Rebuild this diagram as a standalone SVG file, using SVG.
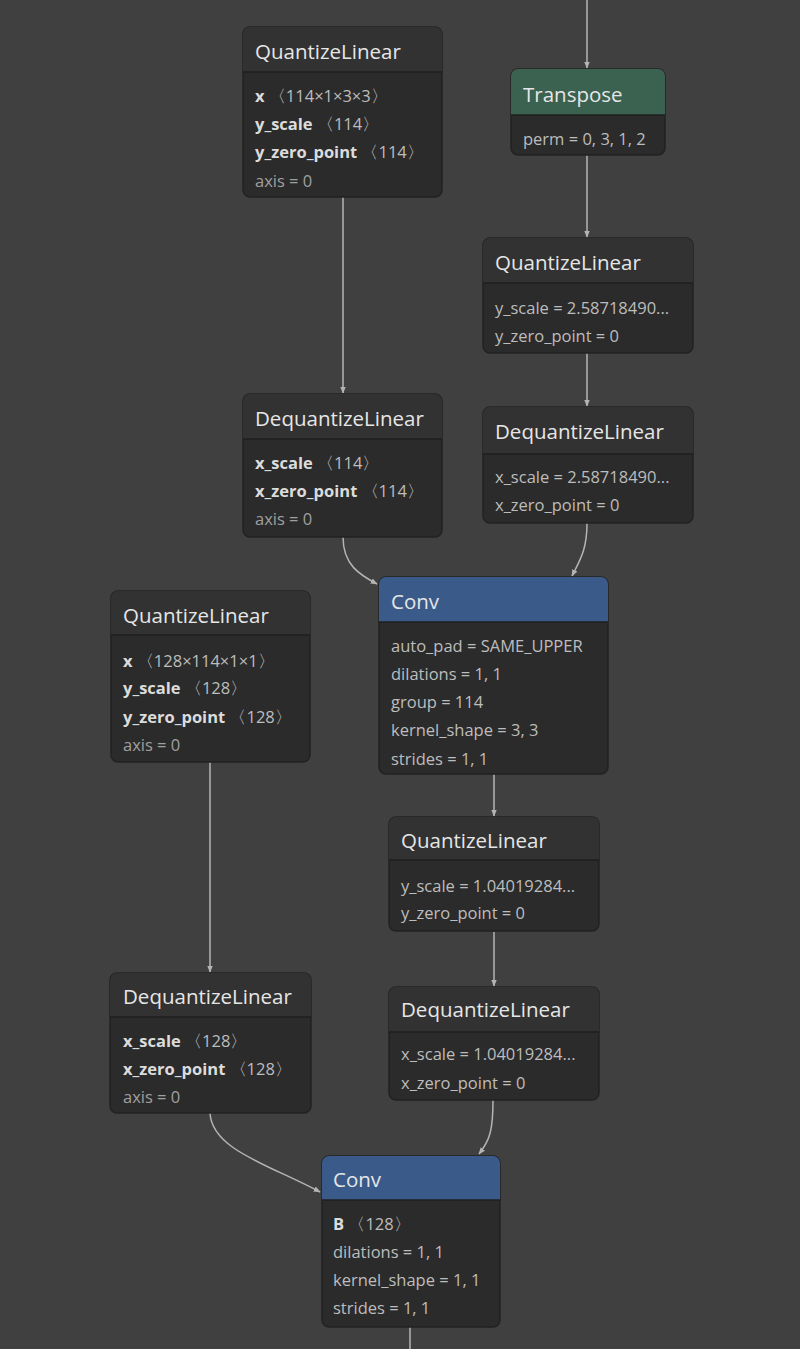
<svg xmlns="http://www.w3.org/2000/svg" width="800" height="1349" viewBox="0 0 800 1349">
<defs>
<marker id="arr" viewBox="0 0 10 10" refX="9" refY="5" markerWidth="7" markerHeight="7" orient="auto" markerUnits="userSpaceOnUse">
<path d="M0,1 L10,5 L0,9 Z" fill="#b4b4b4"/>
</marker>
<style>
.bg{fill:#404040}
.body{fill:#2b2b2b;stroke:#222;stroke-width:1.5}
.hd{fill:#323232}
.hdc{fill:#3a5a8a}
.hdt{fill:#3b6150}
.sep{stroke:#1f1f1f;stroke-width:1.5}
.t{font-family:"Open Sans","Noto Sans",sans-serif;font-size:20.5px;fill:#e6e6e6}
.a{font-family:"Open Sans","Noto Sans",sans-serif;font-size:16.5px;fill:#bdbdbd}
.b{font-weight:bold;fill:#dcdcdc}
.d{fill:#a0a0a0}
.e{fill:none;stroke:#b4b4b4;stroke-width:1.5;marker-end:url(#arr)}
.e2{fill:none;stroke:#b4b4b4;stroke-width:1.5}
</style>
</defs>
<rect class="bg" x="0" y="0" width="800" height="1349"/>

<g id="edges">
<path class="e" d="M587,0 L587,68"/>
<path class="e" d="M587,155 L587,237"/>
<path class="e" d="M587,353 L587,406"/>
<path class="e" d="M587,523 C587,550 580,560 572,576"/>
<path class="e" d="M343,197 L343,393"/>
<path class="e" d="M343,537 C343,565 360,575 377,584"/>
<path class="e" d="M494,773 L494,816"/>
<path class="e" d="M494,932 L494,986"/>
<path class="e" d="M493,1100 C493,1130 490,1140 479,1154"/>
<path class="e" d="M210,762 L210,972"/>
<path class="e" d="M210,1113 C212,1150 270,1165 320,1192"/>
<path class="e2" d="M410,1327 L410,1349"/>
</g>

<g id="n1">
<rect class="body" x="243" y="27" width="199" height="170" rx="7"/>
<path class="hd" d="M250,27 H435 A7,7 0 0 1 442,34 V72 H243 V34 A7,7 0 0 1 250,27 Z"/>
<line class="sep" x1="243" y1="72" x2="442" y2="72"/>
<text class="t" x="255" y="59">QuantizeLinear</text>
<text class="a" x="255" y="102"><tspan class="b">x</tspan> 〈114×1×3×3〉</text>
<text class="a" x="255" y="130"><tspan class="b">y_scale</tspan> 〈114〉</text>
<text class="a" x="255" y="158"><tspan class="b">y_zero_point</tspan> 〈114〉</text>
<text class="a d" x="255" y="187">axis = 0</text>
</g>

<g id="n2">
<rect class="body" x="511" y="69" width="154" height="86" rx="7"/>
<path class="hdt" d="M518,69 H658 A7,7 0 0 1 665,76 V115 H511 V76 A7,7 0 0 1 518,69 Z"/>
<line class="sep" x1="511" y1="115" x2="665" y2="115"/>
<text class="t" x="523" y="102">Transpose</text>
<text class="a" x="523" y="145">perm = 0, 3, 1, 2</text>
</g>

<g id="n3">
<rect class="body" x="483" y="238" width="210" height="115" rx="7"/>
<path class="hd" d="M490,238 H686 A7,7 0 0 1 693,245 V283 H483 V245 A7,7 0 0 1 490,238 Z"/>
<line class="sep" x1="483" y1="283" x2="693" y2="283"/>
<text class="t" x="495" y="270">QuantizeLinear</text>
<text class="a" x="495" y="314">y_scale = 2.58718490...</text>
<text class="a" x="495" y="342">y_zero_point = 0</text>
</g>

<g id="n4">
<rect class="body" x="483" y="407" width="210" height="116" rx="7"/>
<path class="hd" d="M490,407 H686 A7,7 0 0 1 693,414 V454 H483 V414 A7,7 0 0 1 490,407 Z"/>
<line class="sep" x1="483" y1="454" x2="693" y2="454"/>
<text class="t" x="495" y="439">DequantizeLinear</text>
<text class="a" x="495" y="483">x_scale = 2.58718490...</text>
<text class="a" x="495" y="511">x_zero_point = 0</text>
</g>

<g id="n5">
<rect class="body" x="243" y="394" width="199" height="143" rx="7"/>
<path class="hd" d="M250,394 H435 A7,7 0 0 1 442,401 V439 H243 V401 A7,7 0 0 1 250,394 Z"/>
<line class="sep" x1="243" y1="439" x2="442" y2="439"/>
<text class="t" x="255" y="426">DequantizeLinear</text>
<text class="a" x="255" y="469"><tspan class="b">x_scale</tspan> 〈114〉</text>
<text class="a" x="255" y="497"><tspan class="b">x_zero_point</tspan> 〈114〉</text>
<text class="a d" x="255" y="525">axis = 0</text>
</g>

<g id="n6">
<rect class="body" x="379" y="577" width="229" height="197" rx="7"/>
<path class="hdc" d="M386,577 H601 A7,7 0 0 1 608,584 V622 H379 V584 A7,7 0 0 1 386,577 Z"/>
<line class="sep" x1="379" y1="622" x2="608" y2="622"/>
<text class="t" x="391" y="609">Conv</text>
<text class="a" x="391" y="652">auto_pad = SAME_UPPER</text>
<text class="a" x="391" y="680">dilations = 1, 1</text>
<text class="a" x="391" y="708">group = 114</text>
<text class="a" x="391" y="736">kernel_shape = 3, 3</text>
<text class="a" x="391" y="765">strides = 1, 1</text>
</g>

<g id="n7">
<rect class="body" x="111" y="591" width="199" height="171" rx="7"/>
<path class="hd" d="M118,591 H303 A7,7 0 0 1 310,598 V635 H111 V598 A7,7 0 0 1 118,591 Z"/>
<line class="sep" x1="111" y1="635" x2="310" y2="635"/>
<text class="t" x="123" y="623">QuantizeLinear</text>
<text class="a" x="123" y="667"><tspan class="b">x</tspan> 〈128×114×1×1〉</text>
<text class="a" x="123" y="694"><tspan class="b">y_scale</tspan> 〈128〉</text>
<text class="a" x="123" y="723"><tspan class="b">y_zero_point</tspan> 〈128〉</text>
<text class="a d" x="123" y="751">axis = 0</text>
</g>

<g id="n8">
<rect class="body" x="389" y="817" width="210" height="114" rx="7"/>
<path class="hd" d="M396,817 H592 A7,7 0 0 1 599,824 V860 H389 V824 A7,7 0 0 1 396,817 Z"/>
<line class="sep" x1="389" y1="860" x2="599" y2="860"/>
<text class="t" x="401" y="848">QuantizeLinear</text>
<text class="a" x="401" y="892">y_scale = 1.04019284...</text>
<text class="a" x="401" y="919">y_zero_point = 0</text>
</g>

<g id="n9">
<rect class="body" x="389" y="987" width="210" height="113" rx="7"/>
<path class="hd" d="M396,987 H592 A7,7 0 0 1 599,994 V1032 H389 V994 A7,7 0 0 1 396,987 Z"/>
<line class="sep" x1="389" y1="1032" x2="599" y2="1032"/>
<text class="t" x="401" y="1017">DequantizeLinear</text>
<text class="a" x="401" y="1060">x_scale = 1.04019284...</text>
<text class="a" x="401" y="1089">x_zero_point = 0</text>
</g>

<g id="n10">
<rect class="body" x="110" y="973" width="201" height="140" rx="7"/>
<path class="hd" d="M117,973 H304 A7,7 0 0 1 311,980 V1017 H110 V980 A7,7 0 0 1 117,973 Z"/>
<line class="sep" x1="110" y1="1017" x2="311" y2="1017"/>
<text class="t" x="123" y="1004">DequantizeLinear</text>
<text class="a" x="123" y="1047"><tspan class="b">x_scale</tspan> 〈128〉</text>
<text class="a" x="123" y="1075"><tspan class="b">x_zero_point</tspan> 〈128〉</text>
<text class="a d" x="123" y="1103">axis = 0</text>
</g>

<g id="n11">
<rect class="body" x="322" y="1156" width="178" height="171" rx="7"/>
<path class="hdc" d="M329,1156 H493 A7,7 0 0 1 500,1163 V1200 H322 V1163 A7,7 0 0 1 329,1156 Z"/>
<line class="sep" x1="322" y1="1200" x2="500" y2="1200"/>
<text class="t" x="333" y="1187">Conv</text>
<text class="a" x="333" y="1230"><tspan class="b">B</tspan> 〈128〉</text>
<text class="a" x="333" y="1258">dilations = 1, 1</text>
<text class="a" x="333" y="1286">kernel_shape = 1, 1</text>
<text class="a" x="333" y="1314">strides = 1, 1</text>
</g>
</svg>
